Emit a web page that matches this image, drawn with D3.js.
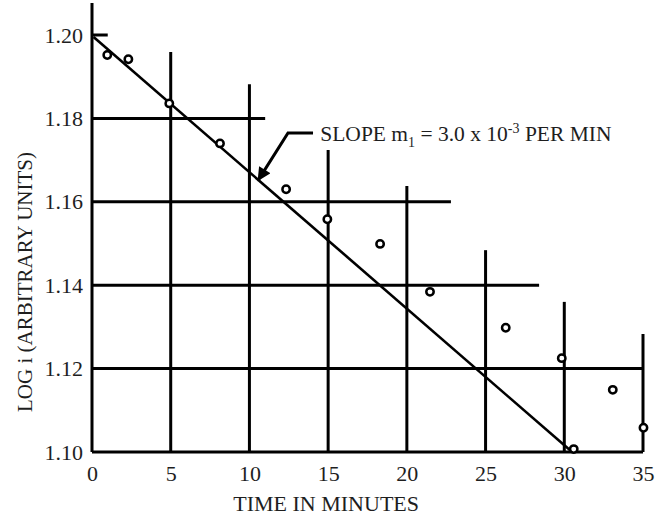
<!DOCTYPE html>
<html>
<head>
<meta charset="utf-8">
<script src="https://cdn.jsdelivr.net/npm/d3@7"></script>
<style>
  body { margin: 0; background: #fff; }
  text { font-family: 'Liberation Serif', 'Times New Roman', serif; fill: #1e1e1e; }
</style>
</head>
<body>
<div class="canvas"></div>
<script>
// data
const times = [0.97, 2.31, 4.91, 8.13, 12.33, 14.95, 18.3, 21.47, 26.28, 29.84, 33.08, 35.03, 30.6];
const logI = [1.1952, 1.1942, 1.1836, 1.174, 1.163, 1.1558, 1.1499, 1.1384, 1.1298, 1.1225, 1.1149, 1.1058, 1.1007];

const xTicks = [0, 5, 10, 15, 20, 25, 30, 35];
const yTicks = [1.10, 1.12, 1.14, 1.16, 1.18, 1.20];

// staircase grid: horizontal lines and how far right they run
const hLevels = [1.20, 1.18, 1.16, 1.14, 1.12];
const hEnds = [1.0, 11.0, 22.8, 28.4, 35];
// vertical lines and how high they reach
const vTimes = [5, 10, 15, 20, 25, 30, 35];
const vTops = [1.1959, 1.1882, 1.1724, 1.1638, 1.1484, 1.136, 1.1283];

// fitted line, end points
const fitT = [0.1, 30.5];
const fitY = [1.1995, 1.10];

const W = 667, H = 520;
const svg = d3.select('.canvas')
  .append('svg')
    .attr('width', W)
    .attr('height', H);

const x = d3.scaleLinear().domain([0, 35]).range([92, 643]);
const y = d3.scaleLinear().domain([1.10, 1.20]).range([452, 35]);

const ink = '#000';
const fontSize = 22;

// grid lines
svg.selectAll('line.h')
  .data(hLevels)
  .enter().append('line')
    .attr('class', 'h')
    .attr('x1', x(0))
    .attr('x2', (d, i) => x(hEnds[i]))
    .attr('y1', d => y(d))
    .attr('y2', d => y(d))
    .attr('stroke', ink)
    .attr('stroke-width', 3);

svg.selectAll('line.v')
  .data(vTimes)
  .enter().append('line')
    .attr('class', 'v')
    .attr('x1', d => x(d))
    .attr('x2', d => x(d))
    .attr('y1', y(1.10))
    .attr('y2', (d, i) => y(vTops[i]))
    .attr('stroke', ink)
    .attr('stroke-width', 3);

// axes (no tick marks, just the lines and labels)
const xAxis = d3.axisBottom(x).tickValues(xTicks).tickSize(0).tickPadding(13).tickFormat(d3.format('d'));
const yAxis = d3.axisLeft(y).tickValues(yTicks).tickSize(0).tickPadding(9).tickFormat(d3.format('.2f'));

const xAxisGroup = svg.append('g')
  .attr('transform', `translate(0, ${y(1.10)})`)
  .call(xAxis);
const yAxisGroup = svg.append('g')
  .attr('transform', `translate(${x(0)}, 0)`)
  .call(yAxis);

[xAxisGroup, yAxisGroup].forEach(g => {
  g.select('.domain').remove();
  g.selectAll('text')
    .attr('font-family', "'Liberation Serif', 'Times New Roman', serif")
    .attr('font-size', fontSize)
    .attr('fill', '#1e1e1e');
});

svg.append('line')
  .attr('x1', x(0)).attr('x2', x(0))
  .attr('y1', y(1.10)).attr('y2', y(1.2077))
  .attr('stroke', ink).attr('stroke-width', 3);
svg.append('line')
  .attr('x1', x(0)).attr('x2', x(35))
  .attr('y1', y(1.10)).attr('y2', y(1.10))
  .attr('stroke', ink).attr('stroke-width', 3);

// fitted line
svg.append('line')
  .attr('x1', x(fitT[0])).attr('y1', y(fitY[0]))
  .attr('x2', x(fitT[1])).attr('y2', y(fitY[1]))
  .attr('stroke', ink)
  .attr('stroke-width', 2.6);

// data points
svg.selectAll('circle')
  .data(times)
  .enter().append('circle')
    .attr('cx', d => x(d))
    .attr('cy', (d, i) => y(logI[i]))
    .attr('r', 3.7)
    .attr('fill', '#fff')
    .attr('stroke', ink)
    .attr('stroke-width', 2.5);

// slope annotation with arrow
svg.append('defs').append('marker')
  .attr('id', 'head')
  .attr('viewBox', '0 0 10 10')
  .attr('refX', 8).attr('refY', 5)
  .attr('markerWidth', 5.5).attr('markerHeight', 4.5)
  .attr('orient', 'auto')
  .attr('markerUnits', 'strokeWidth')
  .append('path')
    .attr('d', 'M0,0 L10,5 L0,10 Z')
    .attr('fill', ink);

const arrowPts = [[14.04, 1.1765], [12.45, 1.1765], [10.61, 1.1655]];
svg.append('path')
  .attr('d', d3.line().x(d => x(d[0])).y(d => y(d[1]))(arrowPts))
  .attr('fill', 'none')
  .attr('stroke', ink)
  .attr('stroke-width', 3)
  .attr('marker-end', 'url(#head)');

const note = svg.append('text')
  .attr('x', x(14.5))
  .attr('y', y(1.1745))
  .attr('font-size', 21.5);
note.append('tspan').text('SLOPE m');
note.append('tspan').attr('font-size', 14).attr('dy', 6).text('1');
note.append('tspan').attr('dy', -6).text(' = 3.0 x 10');
note.append('tspan').attr('font-size', 14).attr('dy', -8).text('-3');
note.append('tspan').attr('dy', 8).text(' PER MIN');

// axis titles
svg.append('text')
  .attr('x', x(15) - 2)
  .attr('y', 511)
  .attr('text-anchor', 'middle')
  .attr('font-size', fontSize)
  .text('TIME IN MINUTES');

svg.append('text')
  .attr('transform', `translate(32, 282) rotate(-90)`)
  .attr('text-anchor', 'middle')
  .attr('font-size', 21)
  .text('LOG i (ARBITRARY UNITS)');
</script>
</body>
</html>
